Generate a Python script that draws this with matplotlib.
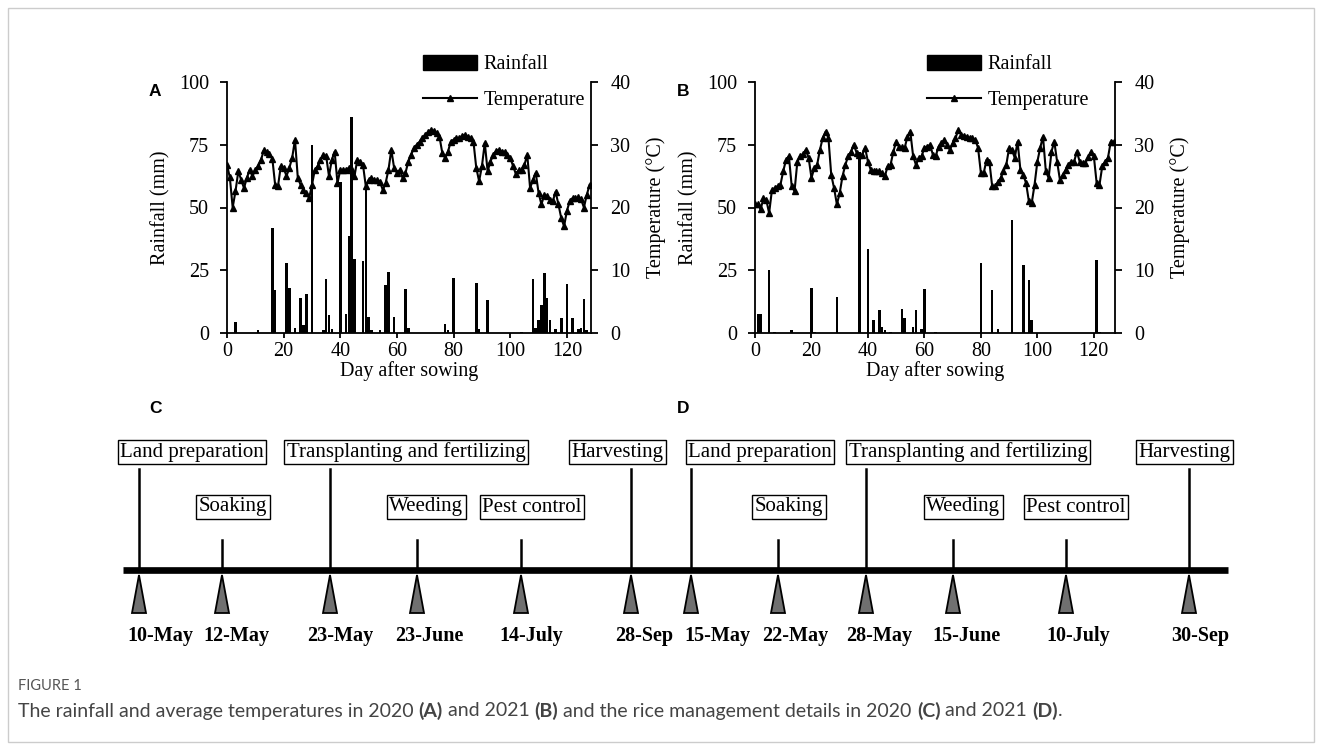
import matplotlib
matplotlib.use('Agg')
import matplotlib.pyplot as plt
from matplotlib.patches import Patch, Polygon, Rectangle
from matplotlib.lines import Line2D
from matplotlib import font_manager
import numpy as np

# ---------------- data ----------------
temp_2020 = [26.8, 24.8, 20.0, 22.6, 25.8, 24.4, 23.1, 24.7, 26.0, 25.0,
             26.0, 26.6, 27.6, 29.1, 28.8, 28.5, 27.8, 23.6, 23.4, 26.6,
             26.3, 25.0, 26.3, 27.9, 30.8, 24.7, 23.6, 22.8, 22.3, 21.5,
             23.6, 26.0, 26.6, 27.5, 28.4, 28.2, 25.0, 27.6, 28.9, 23.9,
             26.0, 26.0, 26.0, 26.3, 26.0, 25.0, 27.6, 27.3, 26.8, 23.4,
             24.4, 24.7, 24.4, 24.4, 24.1, 22.8, 23.9, 26.0, 29.2, 26.3,
             25.5, 26.0, 24.7, 25.5, 27.3, 28.4, 29.5, 30.0, 30.5, 31.1,
             31.6, 32.0, 32.4, 32.2, 31.9, 31.3, 28.7, 27.9, 28.9, 30.5,
             30.8, 31.0, 31.1, 31.4, 31.6, 31.3, 31.1, 30.5, 26.3, 24.2,
             26.6, 30.3, 25.8, 27.3, 28.4, 29.0, 29.2, 28.9, 28.9, 28.4,
             27.9, 26.6, 25.3, 26.0, 26.0, 26.8, 28.4, 23.1, 24.4, 25.5,
             22.3, 20.5, 22.0, 21.8, 21.2, 21.0, 22.5, 20.5, 18.3, 17.0,
             19.5, 21.0, 21.5, 21.5, 21.6, 21.3, 20.0, 22.0, 23.6]

rain_2020_day = [3, 11, 16, 17, 21, 22, 24, 26, 27, 28, 30, 34, 35, 36, 37,
                 40, 42, 43, 44, 45, 48, 49, 50, 51, 54, 56, 57, 59, 63, 64,
                 77, 78, 80, 88, 89, 92, 104, 108, 109, 110, 111, 112, 113,
                 114, 116, 118, 120, 122, 124, 125, 126, 127]
rain_2020_mm = [4.5, 1, 42, 17, 28, 18, 2, 14, 3, 15.5, 75, 1, 21.5, 7, 1.5,
                60, 7.5, 38.5, 86, 29.5, 28.5, 58, 6.5, 1, 1, 19, 24.5, 6.5, 17.5, 2,
                3.5, 1, 22, 20, 1.5, 13, 0.5, 21.5, 2, 5, 11, 24, 14,
                5, 1.5, 6, 19.5, 6, 1.5, 2, 13.5, 1]

temp_2021 = [20.5, 20.5, 19.7, 21.5, 21.2, 19.1, 22.8, 23.1, 23.4, 23.6,
             25.8, 27.6, 28.2, 23.4, 22.6, 27.3, 28.2, 28.5, 29.2, 27.9,
             24.7, 26.3, 26.8, 29.2, 31.1, 32.1, 31.1, 25.2, 23.1, 20.5,
             22.3, 25.0, 26.8, 28.2, 28.9, 30.0, 28.7, 28.4, 28.4, 29.5,
             27.3, 26.0, 25.8, 25.8, 25.8, 25.5, 25.0, 26.6, 26.8, 28.9,
             30.5, 29.7, 29.6, 29.5, 31.3, 32.1, 28.2, 26.8, 27.9, 28.2,
             29.5, 29.7, 30.0, 28.4, 28.2, 29.7, 30.2, 30.8, 30.0, 29.2,
             30.2, 31.0, 32.4, 31.6, 31.4, 31.3, 31.1, 31.0, 30.8, 29.5,
             25.5, 25.5, 27.6, 27.3, 23.4, 23.4, 24.0, 24.7, 25.8, 26.8,
             29.5, 29.2, 27.9, 30.5, 26.0, 25.2, 23.9, 21.0, 20.7, 23.6,
             27.3, 29.5, 31.3, 25.8, 24.7, 28.9, 30.5, 27.3, 24.4, 25.2,
             26.0, 26.8, 27.3, 27.3, 28.9, 27.3, 27.1, 27.1, 28.0, 28.9,
             28.2, 23.9, 23.6, 26.6, 27.3, 27.9, 30.5, 30.5]

rain_2021_day = [1, 2, 5, 7, 13, 20, 21, 29, 37, 40, 42, 44, 45, 46, 48, 52,
                 53, 56, 57, 59, 60, 64, 80, 84, 86, 91, 95, 97, 98, 121, 122]
rain_2021_mm = [7.5, 7.5, 25, 0.5, 1, 18, 0.5, 14.5, 72, 33.5, 5, 9, 2.5, 1,
                0.5, 9.5, 6, 2.5, 9, 1.5, 17.5, 0.5, 28, 17, 1.5, 45, 27, 21,
                5, 29, 0.5]

rain_ticks = [0, 25, 50, 75, 100]
temp_ticks = [0, 10, 20, 30, 40]
day_ticks = [0, 20, 40, 60, 80, 100, 120]

events = ['Land preparation', 'Soaking', 'Transplanting and fertilizing',
          'Weeding', 'Pest control', 'Harvesting']
event_row = [0, 1, 0, 1, 1, 0]
dates_2020 = ['10-May', '12-May', '23-May', '23-June', '14-July', '28-Sep']
dates_2021 = ['15-May', '22-May', '28-May', '15-June', '10-July', '30-Sep']

caption_parts = [("The rainfall and average temperatures in 2020 ", 'normal'),
                 ("(A)", 'bold'), (" and 2021 ", 'normal'), ("(B)", 'bold'),
                 (" and the rice management details in 2020 ", 'normal'),
                 ("(C)", 'bold'), (" and 2021 ", 'normal'), ("(D)", 'bold'),
                 (".", 'normal')]

# ---------------- layout (pixels) ----------------
W, H = 1322, 748
FS = 14.5
plt.rcParams['font.family'] = ['Liberation Serif', 'DejaVu Serif']

installed = {f.name for f in font_manager.fontManager.ttflist}
if 'Liberation Sans Narrow' in installed:
    CAP_FAMILY = ['Liberation Sans Narrow', 'DejaVu Sans']
    CAP_SIZE, FIG_SIZE = 14, 11
else:
    CAP_FAMILY = ['Lato', 'DejaVu Sans']
    CAP_SIZE, FIG_SIZE = 14, 10.5

fig = plt.figure(figsize=(W / 100, H / 100), dpi=100, facecolor='white')


def frac_rect(x0, y0, x1, y1):
    return [x0 / W, 1 - y1 / H, (x1 - x0) / W, (y1 - y0) / H]


def panel(px0, px1, temp, rdays, rmm, xmax, leg_right):
    ax = fig.add_axes(frac_rect(px0, 82, px1, 333))
    ax.bar(rdays, rmm, width=0.9, color='black', zorder=2)
    ax.set_xlim(0, xmax)
    ax.set_ylim(0, 100)
    ax.set_yticks(rain_ticks)
    ax.set_xticks(day_ticks)
    ax.set_ylabel('Rainfall (mm)', fontsize=FS, labelpad=6)
    ax.set_xlabel('Day after sowing', fontsize=FS, labelpad=0)
    tx = ax.twinx()
    tx.plot(np.arange(len(temp)), temp, '-', color='black', lw=1.5,
            marker='^', ms=3.8, zorder=3)
    tx.set_ylim(0, 40)
    tx.set_yticks(temp_ticks)
    tx.set_ylabel('Temperature (°C)', fontsize=FS, labelpad=11)
    for a in (ax, tx):
        a.spines['top'].set_visible(False)
        for s in a.spines.values():
            s.set_linewidth(1.3)
    ax.spines['right'].set_visible(False)
    tx.spines['left'].set_visible(False)
    tx.spines['bottom'].set_visible(False)
    ax.tick_params(axis='y', direction='out', length=5, width=1.3,
                   labelsize=FS, pad=8)
    ax.tick_params(axis='x', direction='out', length=3.6, width=1.3,
                   labelsize=FS, pad=3)
    tx.tick_params(axis='y', direction='out', length=5, width=1.3,
                   labelsize=FS, pad=9)
    handles = [Patch(facecolor='black', edgecolor='black'),
               Line2D([], [], color='black', lw=1.5, marker='^', ms=3.8)]
    tx.legend(handles, ['Rainfall', 'Temperature'], loc='upper right',
              bbox_to_anchor=(leg_right / W, 1 - 55 / H),
              bbox_transform=fig.transFigure, frameon=False, fontsize=FS,
              handlelength=2.7, handleheight=0.75, handletextpad=0.3,
              labelspacing=0.8, borderpad=0, borderaxespad=0)
    return ax, tx


panel(227, 591, temp_2020, rain_2020_day, rain_2020_mm, 128.5, 585)
panel(755, 1115, temp_2021, rain_2021_day, rain_2021_mm, 127.5, 1089)

# ---------------- timeline ----------------
tl = fig.add_axes([0, 0, 1, 1], zorder=-1)
tl.set_xlim(0, W)
tl.set_ylim(H, 0)
tl.axis('off')

LINE_Y = 570
tl.plot([123, 1228], [LINE_Y, LINE_Y], color='black', lw=4.8,
        solid_capstyle='butt', zorder=3)

layouts = [
    dict(x=[139, 222, 330, 417, 521, 631], box=[192, 233, 406, 426, 532, 617],
         dx=[160, 236, 340, 429, 531, 644], dates=dates_2020),
    dict(x=[691, 778, 866, 953, 1066, 1189], box=[760, 789, 968, 963, 1076, 1184],
         dx=[717, 795, 879, 967, 1078, 1200], dates=dates_2021),
]
ROW_Y = [452, 507]
LINE_TOP = [469, 540]
for lay in layouts:
    for i, ev in enumerate(events):
        x = lay['x'][i]
        r = event_row[i]
        tl.plot([x, x], [LINE_TOP[r], LINE_Y], color='black', lw=1.8, zorder=2)
        tl.add_patch(Polygon([(x - 7, 613), (x + 7, 613), (x, 575)], closed=True,
                             facecolor='#707070', edgecolor='black', lw=1.3, zorder=4))
        tl.text(lay['box'][i], ROW_Y[r], ev, ha='center', va='center', fontsize=15,
                bbox=dict(boxstyle='square,pad=0.12', facecolor='white',
                          edgecolor='black', lw=1.0), zorder=5)
        tl.text(lay['dx'][i], 636, lay['dates'][i], ha='center', va='center',
                fontsize=FS, fontweight='bold')

# panel letters
for lab, (x, y) in zip('ABCD', [(155, 91), (683, 91), (155, 408), (683, 408)]):
    tl.text(x, y, lab, ha='center', va='center', fontsize=12.5, fontweight='bold',
            family=['Liberation Sans', 'DejaVu Sans'])

# frame
tl.add_patch(Rectangle((8, 8), W - 16, H - 14, fill=False, edgecolor='#cccccc', lw=1.0))

# caption
tl.text(18, 686, 'FIGURE 1', ha='left', va='center', fontsize=FIG_SIZE, color='#555555',
        family=CAP_FAMILY)

renderer = fig.canvas.get_renderer()


def text_width(s, weight, size):
    t1 = tl.text(0, 0, '|' + s + '|', fontsize=size, fontweight=weight, family=CAP_FAMILY)
    t2 = tl.text(0, 0, '||', fontsize=size, fontweight=weight, family=CAP_FAMILY)
    w = t1.get_window_extent(renderer).width - t2.get_window_extent(renderer).width
    t1.remove()
    t2.remove()
    return w


cx = 18
for s, wgt in caption_parts:
    tl.text(cx, 711, s, ha='left', va='center', fontsize=CAP_SIZE, fontweight=wgt,
            color='#444444', family=CAP_FAMILY)
    cx += text_width(s, wgt, CAP_SIZE)

fig.savefig('out.png', dpi=100, facecolor='white')
